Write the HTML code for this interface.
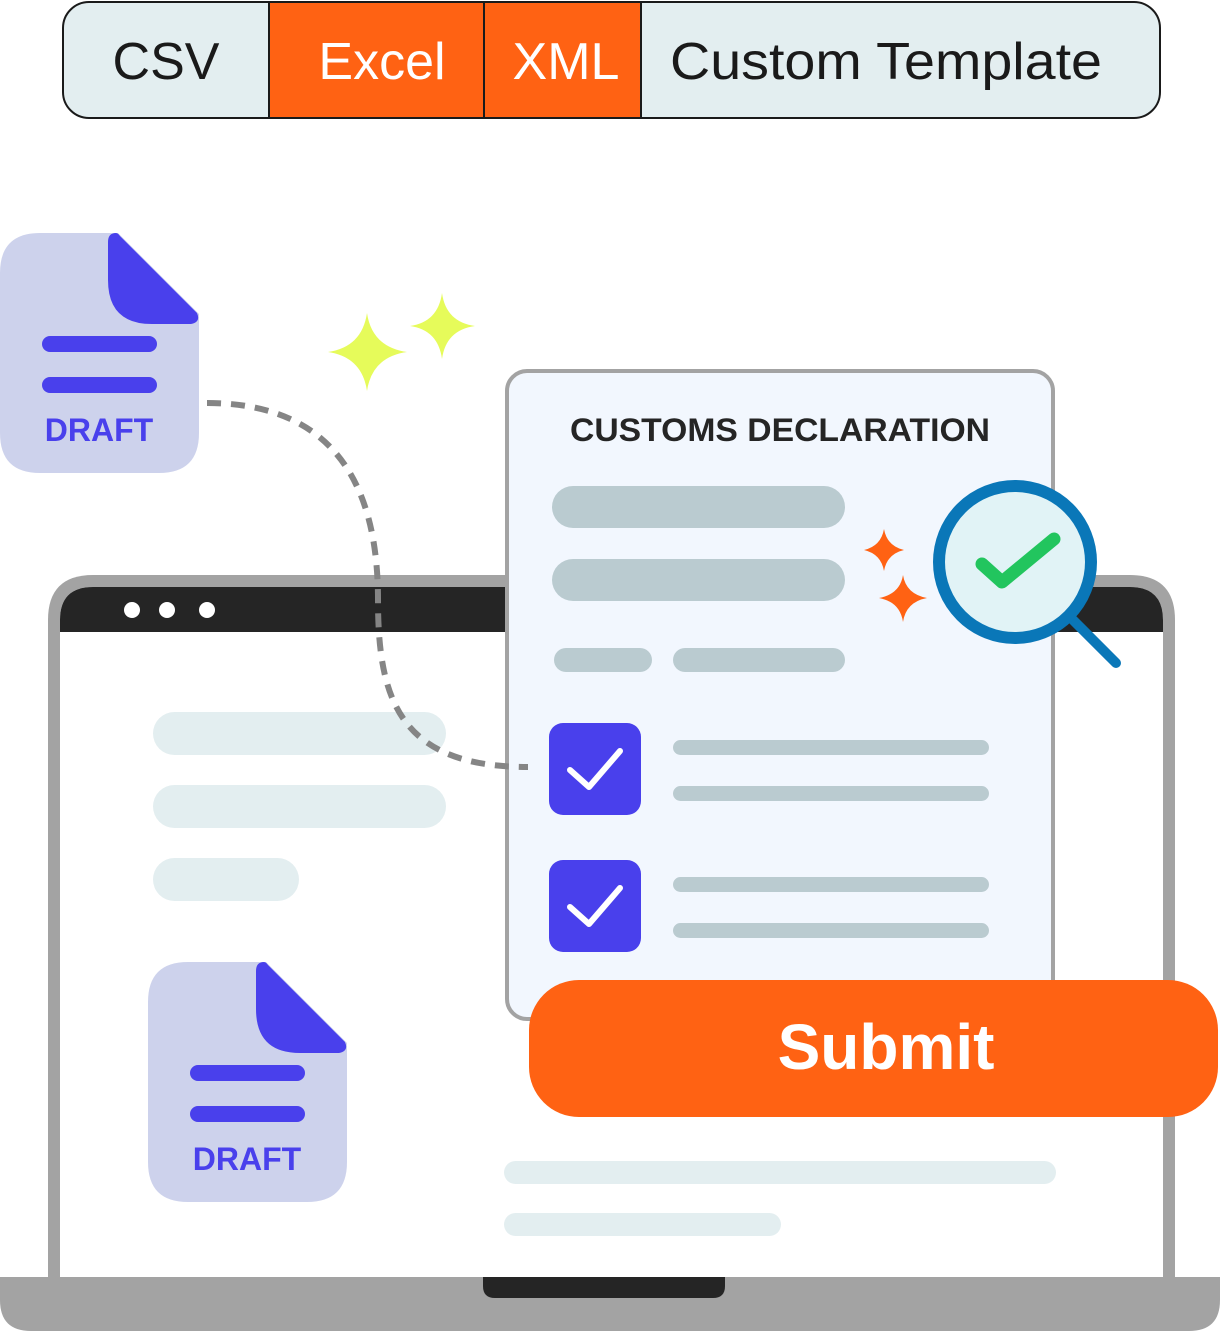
<!DOCTYPE html>
<html><head><meta charset="utf-8"><style>
html,body{margin:0;padding:0;background:#fff;width:1221px;height:1331px;overflow:hidden}
svg{display:block}
text{font-family:"Liberation Sans",sans-serif}
</style></head><body>
<svg width="1221" height="1331" viewBox="0 0 1221 1331" xmlns="http://www.w3.org/2000/svg">
<defs>
<clipPath id="tabs"><rect x="63" y="2" width="1097" height="116" rx="26"/></clipPath>
</defs>
<g clip-path="url(#tabs)">
<rect x="63" y="2" width="1097" height="116" fill="#e3eef0"/>
<rect x="269" y="2" width="372" height="116" fill="#ff6213"/>
</g>
<rect x="63" y="2" width="1097" height="116" rx="26" fill="none" stroke="#1a1a1a" stroke-width="2"/>
<line x1="269" y1="2" x2="269" y2="118" stroke="#1a1a1a" stroke-width="2"/>
<line x1="484" y1="2" x2="484" y2="118" stroke="#1a1a1a" stroke-width="2"/>
<line x1="641" y1="2" x2="641" y2="118" stroke="#1a1a1a" stroke-width="2"/>
<text x="166" y="79" font-size="52" text-anchor="middle" fill="#1a1a1a">CSV</text>
<text x="382" y="79" font-size="52" text-anchor="middle" fill="#fff">Excel</text>
<text x="566" y="79" font-size="52" text-anchor="middle" fill="#fff">XML</text>
<text x="670" y="79" font-size="52" fill="#1a1a1a" textLength="432" lengthAdjust="spacingAndGlyphs">Custom Template</text>

<path d="M48 1285 V620 Q48 575 93 575 H1130 Q1175 575 1175 620 V1285 Z" fill="#a3a3a3"/>
<path d="M60 1280 V620 Q60 587 93 587 H1130 Q1163 587 1163 620 V1280 Z" fill="#fff"/>
<path d="M60 632 V620 Q60 587 93 587 H1130 Q1163 587 1163 620 V632 Z" fill="#252525"/>
<circle cx="132" cy="610" r="8" fill="#fff"/><circle cx="167" cy="610" r="8" fill="#fff"/><circle cx="207" cy="610" r="8" fill="#fff"/>
<path d="M0 1277 H1220 V1300 Q1220 1331 1189 1331 H31 Q0 1331 0 1300 Z" fill="#a3a3a3"/>
<path d="M483 1277 H725 V1286 Q725 1298 713 1298 H495 Q483 1298 483 1286 Z" fill="#252525"/>

<rect x="153" y="712" width="293" height="43" rx="21.5" fill="#e3eef0"/>
<rect x="153" y="785" width="293" height="43" rx="21.5" fill="#e3eef0"/>
<rect x="153" y="858" width="146" height="43" rx="21.5" fill="#e3eef0"/>
<rect x="504" y="1161" width="552" height="23" rx="11.5" fill="#e3eef0"/>
<rect x="504" y="1213" width="277" height="23" rx="11.5" fill="#e3eef0"/>

<g id="d1">
<path d="M40 233 H118 L199 314 V433 Q199 473 159 473 H40 Q0 473 0 433 V273 Q0 233 40 233 Z" fill="#cdd2ec"/>
<path d="M116 233 Q108 233 108 242 V280 Q108 324 152 324 H191 Q201 322 197 313 L120 236 Q118 233 116 233 Z" fill="#4940ec"/>
<line x1="50" y1="344" x2="149" y2="344" stroke="#4940ec" stroke-width="16" stroke-linecap="round"/>
<line x1="50" y1="385" x2="149" y2="385" stroke="#4940ec" stroke-width="16" stroke-linecap="round"/>
<text x="99" y="441" font-size="32" font-weight="bold" text-anchor="middle" fill="#4940ec">DRAFT</text>
</g>
<use href="#d1" transform="translate(148 729)"/>

<path d="M367 313 Q372 347 407 352 Q372 357 367 391 Q362 357 328 352 Q362 347 367 313 Z" fill="#e6fb5a"/>
<path d="M442 293 Q446 322 475 326 Q446 330 442 359 Q438 330 410 326 Q438 322 442 293 Z" fill="#e6fb5a"/>

<rect x="507" y="371" width="546" height="648" rx="20" fill="#f2f7fe" stroke="#a3a3a3" stroke-width="4"/>
<path d="M207 403 C330 403 378 480 378 600 C378 700 400 767 528 767" fill="none" stroke="#858585" stroke-width="6" stroke-dasharray="14 10"/>
<text x="570" y="441" font-size="32" font-weight="bold" fill="#252525" textLength="420" lengthAdjust="spacingAndGlyphs">CUSTOMS DECLARATION</text>
<rect x="552" y="486" width="293" height="42" rx="21" fill="#bacbd0"/>
<rect x="552" y="559" width="293" height="42" rx="21" fill="#bacbd0"/>
<rect x="554" y="648" width="98" height="24" rx="12" fill="#bacbd0"/>
<rect x="673" y="648" width="172" height="24" rx="12" fill="#bacbd0"/>
<rect x="549" y="723" width="92" height="92" rx="14" fill="#4940ec"/>
<polyline points="570,770 589,787 620,751" fill="none" stroke="#fff" stroke-width="6" stroke-linecap="round" stroke-linejoin="round"/>
<rect x="549" y="860" width="92" height="92" rx="14" fill="#4940ec"/>
<polyline points="570,907 589,924 620,888" fill="none" stroke="#fff" stroke-width="6" stroke-linecap="round" stroke-linejoin="round"/>
<rect x="673" y="740" width="316" height="15" rx="7.5" fill="#bacbd0"/>
<rect x="673" y="786" width="316" height="15" rx="7.5" fill="#bacbd0"/>
<rect x="673" y="877" width="316" height="15" rx="7.5" fill="#bacbd0"/>
<rect x="673" y="923" width="316" height="15" rx="7.5" fill="#bacbd0"/>

<path d="M884 529 Q887 546 904 550 Q887 554 884 571 Q881 554 864 550 Q881 546 884 529 Z" fill="#ff6213"/>
<path d="M903 575 Q906 594 927 598 Q906 602 903 622 Q900 602 879 598 Q900 594 903 575 Z" fill="#ff6213"/>

<line x1="1072" y1="619" x2="1116" y2="663" stroke="#0a77b8" stroke-width="10" stroke-linecap="round"/>
<circle cx="1015" cy="562" r="76" fill="#e1f3f6" stroke="#0a77b8" stroke-width="12"/>
<polyline points="982,564 1002,582 1054,539" fill="none" stroke="#22c55e" stroke-width="13" stroke-linecap="round" stroke-linejoin="round"/>

<rect x="529" y="980" width="689" height="137" rx="50" fill="#ff6213"/>
<text x="886" y="1069" font-size="64" font-weight="bold" text-anchor="middle" fill="#fff">Submit</text>
</svg>
</body></html>
